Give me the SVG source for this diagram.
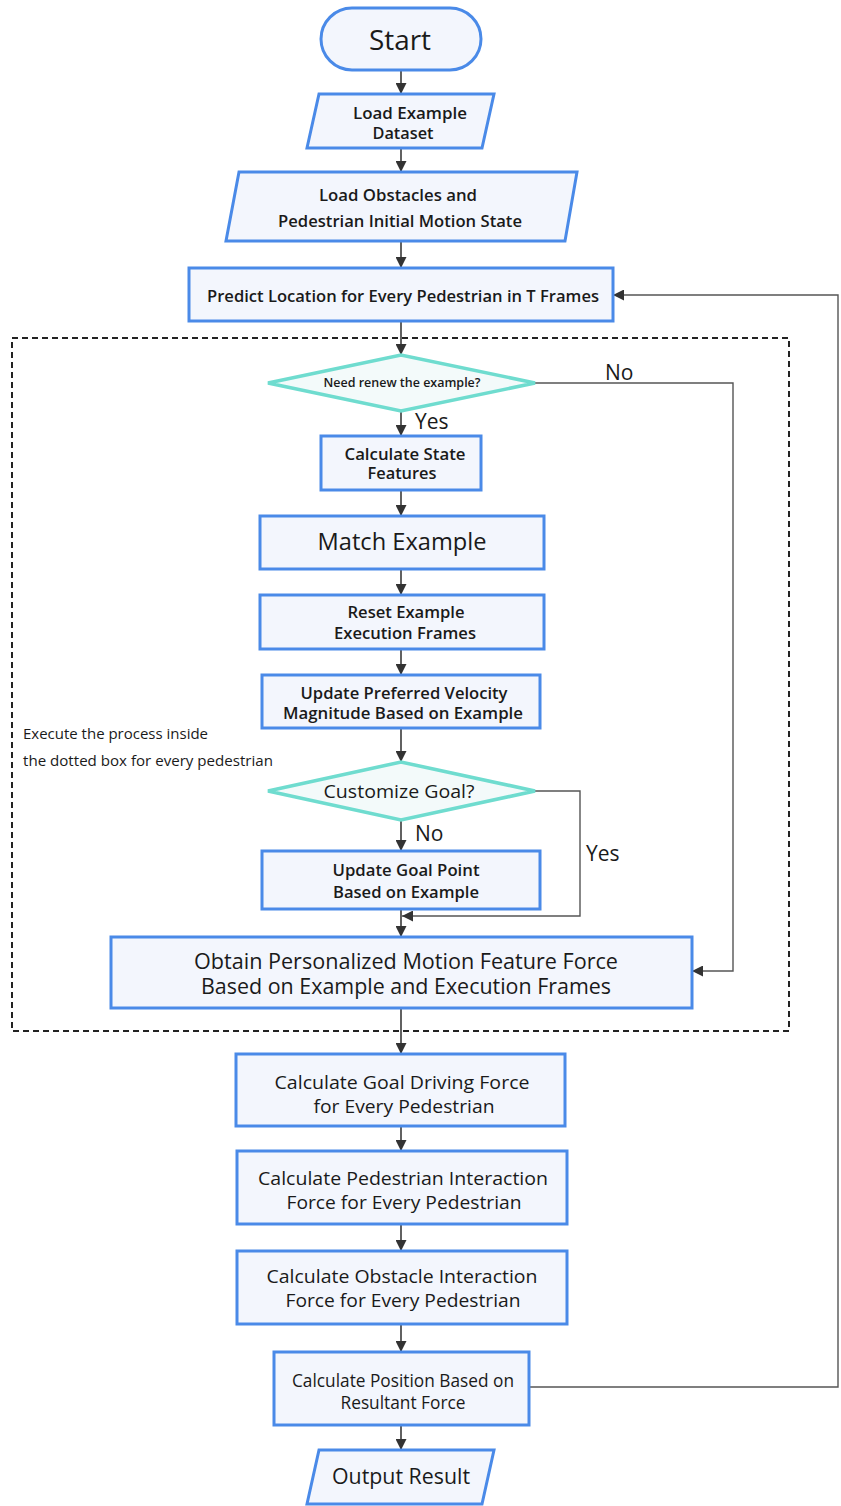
<svg xmlns="http://www.w3.org/2000/svg" width="841" height="1506" viewBox="0 0 841 1506">
<style>
.n{fill:#f3f6fd;stroke:#4a8ae8;stroke-width:3}
.d{fill:#f3fafa;stroke:#6fdccf;stroke-width:3.5}
.t{font-family:"Open Sans","Noto Sans",sans-serif;fill:#1a1a1a;text-anchor:middle}
.b{font-weight:600}
.l{font-family:"Open Sans","Noto Sans",sans-serif;fill:#1a1a1a}
.c{fill:none;stroke:#3a3a3a;stroke-width:1.6}
.c2{fill:none;stroke:#555;stroke-width:1.4}
</style>
<defs>
<marker id="a" viewBox="0 0 10 10" refX="10" refY="5" markerWidth="11" markerHeight="11" markerUnits="userSpaceOnUse" orient="auto">
<path d="M0,0 L10,5 L0,10 z" fill="#333"/>
</marker>
</defs>
<rect x="0" y="0" width="841" height="1506" fill="#ffffff"/>
<rect id="loopbox" x="12" y="338" width="777" height="693" fill="none" stroke="#222" stroke-width="2" stroke-dasharray="6,4"/>
<text class="l" x="23" y="739" font-size="15" textLength="185" lengthAdjust="spacingAndGlyphs">Execute the process inside</text>
<text class="l" x="23" y="766" font-size="15" textLength="250" lengthAdjust="spacingAndGlyphs">the dotted box for every pedestrian</text>
<g id="connectors">
<path class="c" d="M401,70 V94" marker-end="url(#a)"/>
<path class="c" d="M401,148 V172" marker-end="url(#a)"/>
<path class="c" d="M401,241 V268" marker-end="url(#a)"/>
<path class="c" d="M401,321 V355" marker-end="url(#a)"/>
<path class="c" d="M401,411 V436" marker-end="url(#a)"/>
<path class="c" d="M401,490 V516" marker-end="url(#a)"/>
<path class="c" d="M401,569 V595" marker-end="url(#a)"/>
<path class="c" d="M401,649 V675" marker-end="url(#a)"/>
<path class="c" d="M401,728 V762" marker-end="url(#a)"/>
<path class="c" d="M401,820 V851" marker-end="url(#a)"/>
<path class="c" d="M401,909 V937" marker-end="url(#a)"/>
<path class="c" d="M401,1008 V1054" marker-end="url(#a)"/>
<path class="c" d="M401,1126 V1151" marker-end="url(#a)"/>
<path class="c" d="M401,1224 V1251" marker-end="url(#a)"/>
<path class="c" d="M401,1324 V1352" marker-end="url(#a)"/>
<path class="c" d="M401,1425 V1450" marker-end="url(#a)"/>
<path class="c2" d="M529,1387 H838 V295 H613" marker-end="url(#a)"/>
<path class="c2" d="M535,383 H733 V971 H692" marker-end="url(#a)"/>
<path class="c2" d="M535,791 H580 V916 H402" marker-end="url(#a)"/>
<text class="l" x="605" y="380" font-size="21">No</text>
<text class="l" x="415" y="429" font-size="21">Yes</text>
<text class="l" x="415" y="841" font-size="21">No</text>
<text class="l" x="586" y="861" font-size="21">Yes</text>
</g>
<g id="start">
<rect class="n" x="321" y="8" width="160" height="62" rx="31"/>
<text class="t" x="400" y="50" font-size="28" textLength="62" lengthAdjust="spacingAndGlyphs">Start</text>
</g>
<g id="load-example">
<polygon class="n" points="319,94 494,94 482,148 307,148"/>
<text class="t b" x="410" y="119" font-size="16" textLength="114" lengthAdjust="spacingAndGlyphs">Load Example</text>
<text class="t b" x="403" y="139" font-size="16" textLength="61" lengthAdjust="spacingAndGlyphs">Dataset</text>
</g>
<g id="load-obstacles">
<polygon class="n" points="239,172 577,172 565,241 226,241"/>
<text class="t b" x="398" y="201" font-size="17" textLength="158" lengthAdjust="spacingAndGlyphs">Load Obstacles and</text>
<text class="t b" x="400" y="227" font-size="17" textLength="244" lengthAdjust="spacingAndGlyphs">Pedestrian Initial Motion State</text>
</g>
<g id="predict">
<rect class="n" x="189" y="268" width="424" height="53"/>
<text class="t b" x="403" y="302" font-size="17" textLength="392" lengthAdjust="spacingAndGlyphs">Predict Location for Every Pedestrian in T Frames</text>
</g>
<g id="need-renew">
<polygon class="d" points="268,383 401,355 535,383 401,411"/>
<text class="t b" x="402" y="387" font-size="12" textLength="157" lengthAdjust="spacingAndGlyphs">Need renew the example?</text>
</g>
<g id="calc-state">
<rect class="n" x="321" y="436" width="160" height="54"/>
<text class="t b" x="405" y="460" font-size="16" textLength="121" lengthAdjust="spacingAndGlyphs">Calculate State</text>
<text class="t b" x="402" y="479" font-size="16" textLength="69" lengthAdjust="spacingAndGlyphs">Features</text>
</g>
<g id="match">
<rect class="n" x="260" y="516" width="284" height="53"/>
<text class="t" x="402" y="550" font-size="24" textLength="169" lengthAdjust="spacingAndGlyphs">Match Example</text>
</g>
<g id="reset">
<rect class="n" x="260" y="595" width="284" height="54"/>
<text class="t b" x="406" y="618" font-size="16" textLength="117" lengthAdjust="spacingAndGlyphs">Reset Example</text>
<text class="t b" x="405" y="639" font-size="16" textLength="142" lengthAdjust="spacingAndGlyphs">Execution Frames</text>
</g>
<g id="update-velocity">
<rect class="n" x="262" y="675" width="278" height="53"/>
<text class="t b" x="404" y="699" font-size="16" textLength="207" lengthAdjust="spacingAndGlyphs">Update Preferred Velocity</text>
<text class="t b" x="403" y="719" font-size="16" textLength="240" lengthAdjust="spacingAndGlyphs">Magnitude Based on Example</text>
</g>
<g id="customize">
<polygon class="d" points="268,791 401,762 535,791 401,820"/>
<text class="t" x="399" y="798" font-size="19" textLength="151" lengthAdjust="spacingAndGlyphs">Customize Goal?</text>
</g>
<g id="update-goal">
<rect class="n" x="262" y="851" width="278" height="58"/>
<text class="t b" x="406" y="876" font-size="16" textLength="147" lengthAdjust="spacingAndGlyphs">Update Goal Point</text>
<text class="t b" x="406" y="898" font-size="16" textLength="146" lengthAdjust="spacingAndGlyphs">Based on Example</text>
</g>
<g id="obtain">
<rect class="n" x="111" y="937" width="581" height="71"/>
<text class="t" x="406" y="969" font-size="21" textLength="424" lengthAdjust="spacingAndGlyphs">Obtain Personalized Motion Feature Force</text>
<text class="t" x="406" y="994" font-size="21" textLength="410" lengthAdjust="spacingAndGlyphs">Based on Example and Execution Frames</text>
</g>
<g id="goal-force">
<rect class="n" x="236" y="1054" width="329" height="72"/>
<text class="t" x="402" y="1089" font-size="19" textLength="255" lengthAdjust="spacingAndGlyphs">Calculate Goal Driving Force</text>
<text class="t" x="404" y="1113" font-size="19" textLength="181" lengthAdjust="spacingAndGlyphs">for Every Pedestrian</text>
</g>
<g id="ped-force">
<rect class="n" x="237" y="1151" width="330" height="73"/>
<text class="t" x="403" y="1185" font-size="19" textLength="290" lengthAdjust="spacingAndGlyphs">Calculate Pedestrian Interaction</text>
<text class="t" x="404" y="1209" font-size="19" textLength="235" lengthAdjust="spacingAndGlyphs">Force for Every Pedestrian</text>
</g>
<g id="obs-force">
<rect class="n" x="237" y="1251" width="330" height="73"/>
<text class="t" x="402" y="1283" font-size="19" textLength="271" lengthAdjust="spacingAndGlyphs">Calculate Obstacle Interaction</text>
<text class="t" x="403" y="1307" font-size="19" textLength="235" lengthAdjust="spacingAndGlyphs">Force for Every Pedestrian</text>
</g>
<g id="position">
<rect class="n" x="274" y="1352" width="255" height="73"/>
<text class="t" x="403" y="1387" font-size="18" textLength="222" lengthAdjust="spacingAndGlyphs">Calculate Position Based on</text>
<text class="t" x="403" y="1409" font-size="18" textLength="125" lengthAdjust="spacingAndGlyphs">Resultant Force</text>
</g>
<g id="output">
<polygon class="n" points="319,1450 494,1450 482,1504 307,1504"/>
<text class="t" x="401" y="1484" font-size="22" textLength="138" lengthAdjust="spacingAndGlyphs">Output Result</text>
</g>
</svg>
